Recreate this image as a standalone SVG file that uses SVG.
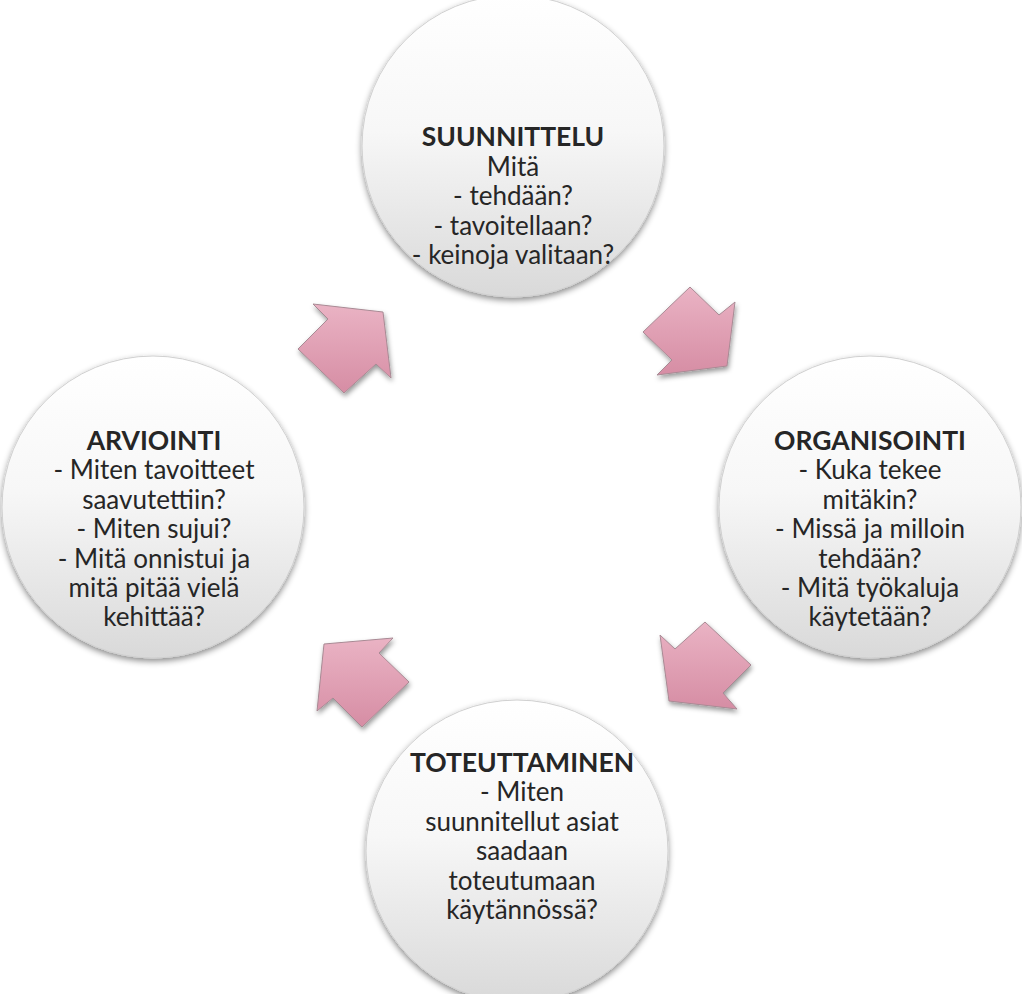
<svg xmlns="http://www.w3.org/2000/svg" width="1022" height="994" viewBox="0 0 1022 994">
  <defs>
    <linearGradient id="gCircle" x1="0" y1="0" x2="0" y2="1">
      <stop offset="0" stop-color="#ffffff"/>
      <stop offset="0.45" stop-color="#f7f7f7"/>
      <stop offset="1" stop-color="#d9d9d9"/>
    </linearGradient>
    <linearGradient id="gArrow" x1="0" y1="0" x2="0" y2="1">
      <stop offset="0" stop-color="#eab3c4"/>
      <stop offset="1" stop-color="#d68da4"/>
    </linearGradient>
    <filter id="shadow" x="-20%" y="-20%" width="140%" height="140%">
      <feDropShadow dx="0" dy="3" stdDeviation="3" flood-color="#000" flood-opacity="0.45"/>
    </filter>
    <filter id="ashadow" x="-20%" y="-20%" width="140%" height="140%">
      <feDropShadow dx="1" dy="3" stdDeviation="2.5" flood-color="#000" flood-opacity="0.4"/>
    </filter>
  </defs>
  <style>
    .circle { fill: url(#gCircle); stroke: #d0d0d0; stroke-width: 1; filter: url(#shadow); }
    .arrow { fill: url(#gArrow); stroke: #a88a94; stroke-width: 1; filter: url(#ashadow); }
    text { font-family: Lato, "Open Sans", "DejaVu Sans", sans-serif; font-size: 26px; fill: #262626; text-anchor: middle; }
    .title { font-weight: bold; font-size: 26.5px; }
  </style>
  <rect width="1022" height="994" fill="#ffffff"/>

  <g id="connectors">
    <polygon class="arrow" points="313,304 383,312 391,378 376,364 344,393 298,349 328,319"/>
    <polygon class="arrow" points="690,287 719,315 735,302 727,366 657,375 672,360 643,332"/>
    <polygon class="arrow" points="660,635 675,649 705,622 751,665 723,693 737,709 669,701"/>
    <polygon class="arrow" points="324,644 393,638 379,653 409,682 362,727 333,698 317,711"/>
  </g>

  <g id="node-suunnittelu">
    <circle class="circle" cx="513" cy="146" r="151"/>
    <text x="513" y="146" class="title">SUUNNITTELU</text>
    <text x="513" y="176">Mitä</text>
    <text x="513" y="205">- tehdään?</text>
    <text x="513" y="235">- tavoitellaan?</text>
    <text x="513" y="264">- keinoja valitaan?</text>
  </g>

  <g id="node-organisointi">
    <circle class="circle" cx="870" cy="507" r="151"/>
    <text x="870" y="450" class="title">ORGANISOINTI</text>
    <text x="870" y="479">- Kuka tekee</text>
    <text x="870" y="509">mitäkin?</text>
    <text x="870" y="538">- Missä ja milloin</text>
    <text x="870" y="568">tehdään?</text>
    <text x="870" y="597">- Mitä työkaluja</text>
    <text x="870" y="626">käytetään?</text>
  </g>

  <g id="node-toteuttaminen">
    <circle class="circle" cx="517" cy="851" r="151"/>
    <text x="522" y="772" class="title">TOTEUTTAMINEN</text>
    <text x="522" y="801">- Miten</text>
    <text x="522" y="831">suunnitellut asiat</text>
    <text x="522" y="860">saadaan</text>
    <text x="522" y="890">toteutumaan</text>
    <text x="522" y="919">käytännössä?</text>
  </g>

  <g id="node-arviointi">
    <circle class="circle" cx="153" cy="507" r="151"/>
    <text x="154" y="450" class="title">ARVIOINTI</text>
    <text x="154" y="479">- Miten tavoitteet</text>
    <text x="154" y="509">saavutettiin?</text>
    <text x="154" y="538">- Miten sujui?</text>
    <text x="154" y="568">- Mitä onnistui ja</text>
    <text x="154" y="597">mitä pitää vielä</text>
    <text x="154" y="626">kehittää?</text>
  </g>
</svg>
